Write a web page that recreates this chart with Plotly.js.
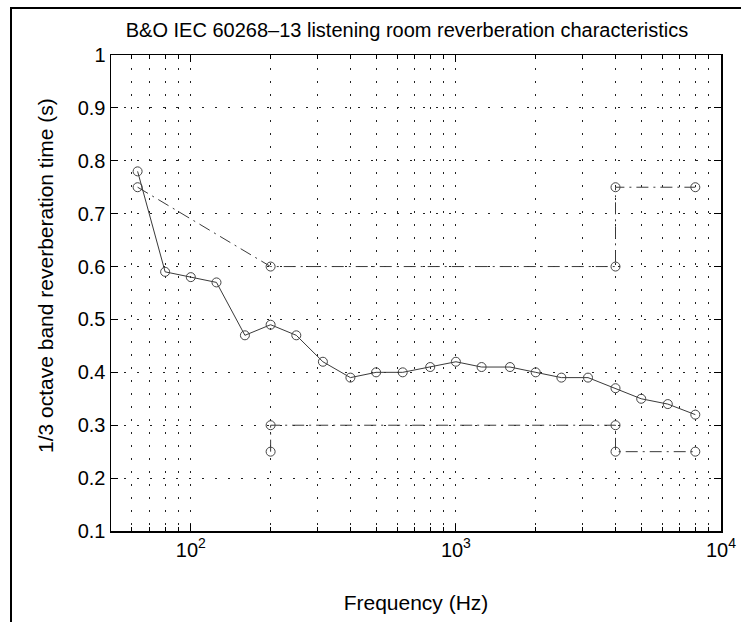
<!DOCTYPE html>
<html>
<head>
<meta charset="utf-8">
<script src="https://cdn.plot.ly/plotly-3.0.1.min.js"></script>
<style>
  html, body { margin: 0; padding: 0; background: #fff; }
  #wrap { position: relative; width: 741px; height: 622px; overflow: hidden; }
  #chart { width: 741px; height: 622px; }
  #frame { position: absolute; left: 10px; top: 7px; right: -5px; bottom: -5px;
           border-left: 2px solid #000; border-top: 2px solid #000; pointer-events: none; }
</style>
</head>
<body>
<div id="wrap">
  <div id="chart"></div>
  <div id="frame"></div>
</div>
<script>
// Measured 1/3-octave reverberation time
const freqs = [63, 80, 100, 125, 160, 200, 250, 315, 400, 500, 630, 800, 1000, 1250, 1600, 2000, 2500, 3150, 4000, 5000, 6300, 8000];
const rt60  = [0.78, 0.59, 0.58, 0.57, 0.47, 0.49, 0.47, 0.42, 0.39, 0.40, 0.40, 0.41, 0.42, 0.41, 0.41, 0.40, 0.39, 0.39, 0.37, 0.35, 0.34, 0.32];

// Upper tolerance limit
const upperFreqs = [63, 200, 4000, 4000, 8000];
const upperVals  = [0.75, 0.60, 0.60, 0.75, 0.75];

// Lower tolerance limit
const lowerFreqs = [200, 200, 4000, 4000, 8000];
const lowerVals  = [0.25, 0.30, 0.30, 0.25, 0.25];

// Axis ticks
const xMajorTicks = [100, 1000, 10000];
const xMajorText  = ['10<sup>2</sup>', '10<sup>3</sup>', '10<sup>4</sup>'];
const xMinorTicks = [50, 60, 70, 80, 90, 200, 300, 400, 500, 600, 700, 800, 900, 2000, 3000, 4000, 5000, 6000, 7000, 8000, 9000];
const yTicks      = [0.1, 0.2, 0.3, 0.4, 0.5, 0.6, 0.7, 0.8, 0.9, 1];
const yTickText   = ['0.1', '0.2', '0.3', '0.4', '0.5', '0.6', '0.7', '0.8', '0.9', '1'];

const lineCol = '#3a3a3a';
const limitDash = '12px,5px,2px,5px';

const traces = [
  {
    x: upperFreqs, y: upperVals, type: 'scatter', mode: 'lines+markers',
    line: { color: lineCol, width: 1, dash: limitDash },
    marker: { symbol: 'circle-open', size: 9, color: '#444', line: { width: 1 } },
    hoverinfo: 'skip'
  },
  {
    x: lowerFreqs, y: lowerVals, type: 'scatter', mode: 'lines+markers',
    line: { color: lineCol, width: 1, dash: limitDash },
    marker: { symbol: 'circle-open', size: 9, color: '#444', line: { width: 1 } },
    hoverinfo: 'skip'
  },
  {
    x: freqs, y: rt60, type: 'scatter', mode: 'lines+markers',
    line: { color: lineCol, width: 1 },
    marker: { symbol: 'circle-open', size: 9, color: '#444', line: { width: 1 } },
    hoverinfo: 'skip'
  }
];

const font = { family: '"Liberation Sans", Arial, Helvetica, sans-serif', color: '#000' };
const plotL = 111, plotR = 20, plotT = 55, plotB = 91;
const plotW = 741 - plotL - plotR, plotH = 622 - plotT - plotB;

const layout = {
  width: 741, height: 622,
  margin: { l: plotL, r: plotR, t: plotT, b: plotB },
  paper_bgcolor: '#fff', plot_bgcolor: '#fff',
  showlegend: false,
  font: Object.assign({ size: 20 }, font),
  title: {
    text: 'B&O IEC 60268–13 listening room reverberation characteristics',
    font: Object.assign({ size: 20 }, font),
    x: 407 / 741, xanchor: 'center', y: 1 - 30 / 622, yanchor: 'middle'
  },
  xaxis: {
    type: 'log',
    range: [Math.log10(50), 4],
    tickmode: 'array', tickvals: xMajorTicks, ticktext: xMajorText,
    ticks: 'inside', ticklen: 7, tickwidth: 1, tickcolor: '#000',
    showline: true, linecolor: '#000', linewidth: 1.5, mirror: 'allticks',
    showgrid: true, gridcolor: '#222', gridwidth: 1, griddash: '2px,11px',
    minor: { tickvals: xMinorTicks, ticks: 'inside', ticklen: 4, tickcolor: '#000',
             showgrid: true, gridcolor: '#222', gridwidth: 1, griddash: '2px,11px' },
    zeroline: false,
    tickfont: Object.assign({ size: 20 }, font),
    title: { text: 'Frequency (Hz)', font: Object.assign({ size: 21 }, font), standoff: 36 }
  },
  yaxis: {
    range: [0.1, 1],
    tickmode: 'array', tickvals: yTicks, ticktext: yTickText,
    ticks: 'inside', ticklen: 7, tickwidth: 1, tickcolor: '#000',
    showline: true, linecolor: '#000', linewidth: 1.5, mirror: 'allticks',
    showgrid: true, gridcolor: '#222', gridwidth: 1, griddash: '2px,11px',
    zeroline: false,
    tickfont: Object.assign({ size: 20 }, font),
    title: { text: '' }
  },
  annotations: [{
    text: '1/3 octave band reverberation time (s)',
    textangle: -90, showarrow: false,
    xref: 'paper', yref: 'paper',
    x: (45 - plotL) / plotW, y: (622 - plotB - 276) / plotH,
    xanchor: 'center', yanchor: 'middle',
    font: Object.assign({ size: 21 }, font)
  }]
};

Plotly.newPlot('chart', traces, layout, { staticPlot: true, displayModeBar: false });
</script>
</body>
</html>
